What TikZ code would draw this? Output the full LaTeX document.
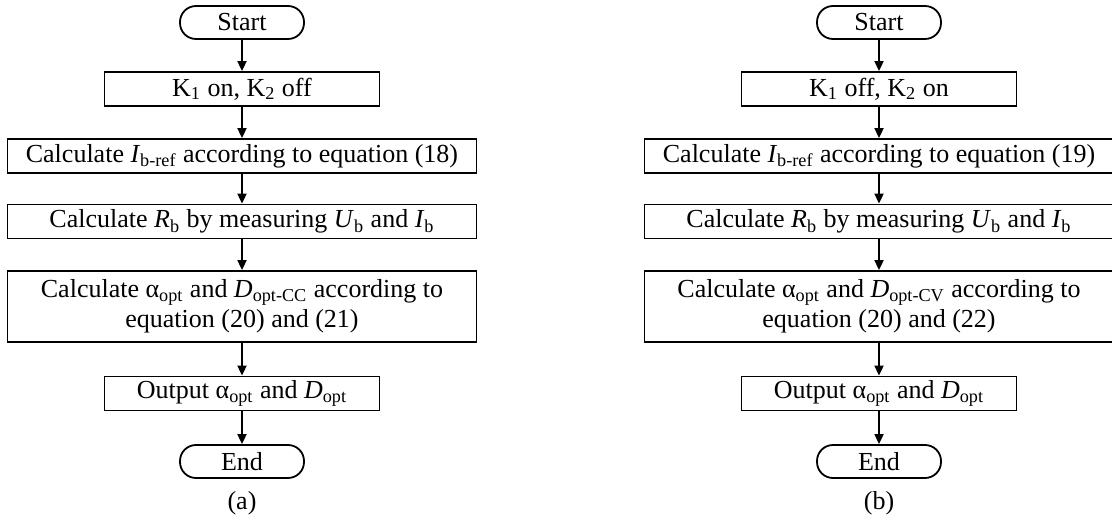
\documentclass[tikz,border=0pt]{standalone}
\usepackage{fontspec}
\setmainfont{Liberation Serif}
\usepackage{tikz}
\usetikzlibrary{arrows.meta, positioning}

\begin{document}
\begin{tikzpicture}[x=0.5pt, y=-0.5pt, font=\fontsize{13}{15}\selectfont,
    box/.style={draw, line width=0.9pt, inner sep=0.5pt, minimum height=17pt, align=center},
    narrowbox/.style={box, minimum width=137.5pt},
    widebox/.style={box, minimum width=234.5pt},
    terminal/.style={box, rounded corners=8pt, minimum width=62pt, minimum height=16.5pt},
    flow/.style={line width=0.9pt, -{Triangle[length=5pt, width=4.5pt]}}]
    \useasboundingbox (0,0) rectangle (1112,523);

    % (a) constant current
    \node[terminal] (a-start) at (242,22.5) {Start};
    \node[narrowbox] (a-switch) at (242,89) {K\textsubscript{1} on, K\textsubscript{2} off};
    \node[widebox] (a-iref) at (242,156) {Calculate \textit{I}\textsubscript{b-ref} according to equation (18)};
    \node[widebox] (a-rb) at (242,221.5) {Calculate \textit{R}\textsubscript{b} by measuring \textit{U}\textsubscript{b} and \textit{I}\textsubscript{b}};
    \node[widebox, minimum height=35.5pt] (a-calc) at (242,306.5) {Calculate α\textsubscript{opt} and \textit{D}\textsubscript{opt-CC} according to\\equation (20) and (21)};
    \node[narrowbox] (a-out) at (242,393.5) {Output α\textsubscript{opt} and \textit{D}\textsubscript{opt}};
    \node[terminal] (a-end) at (242,461.5) {End};
    \node (a-label) at (242,503) {(a)};
    \draw[flow] (a-start) -- (a-switch);
    \draw[flow] (a-switch) -- (a-iref);
    \draw[flow] (a-iref) -- (a-rb);
    \draw[flow] (a-rb) -- (a-calc);
    \draw[flow] (a-calc) -- (a-out);
    \draw[flow] (a-out) -- (a-end);

    % (b) constant voltage
    \node[terminal] (b-start) at (879,22.5) {Start};
    \node[narrowbox] (b-switch) at (879,89) {K\textsubscript{1} off, K\textsubscript{2} on};
    \node[widebox] (b-iref) at (879,156) {Calculate \textit{I}\textsubscript{b-ref} according to equation (19)};
    \node[widebox] (b-rb) at (879,221.5) {Calculate \textit{R}\textsubscript{b} by measuring \textit{U}\textsubscript{b} and \textit{I}\textsubscript{b}};
    \node[widebox, minimum height=35.5pt] (b-calc) at (879,306.5) {Calculate α\textsubscript{opt} and \textit{D}\textsubscript{opt-CV} according to\\equation (20) and (22)};
    \node[narrowbox] (b-out) at (879,393.5) {Output α\textsubscript{opt} and \textit{D}\textsubscript{opt}};
    \node[terminal] (b-end) at (879,461.5) {End};
    \node (b-label) at (879,503) {(b)};
    \draw[flow] (b-start) -- (b-switch);
    \draw[flow] (b-switch) -- (b-iref);
    \draw[flow] (b-iref) -- (b-rb);
    \draw[flow] (b-rb) -- (b-calc);
    \draw[flow] (b-calc) -- (b-out);
    \draw[flow] (b-out) -- (b-end);
\end{tikzpicture}
\end{document}
